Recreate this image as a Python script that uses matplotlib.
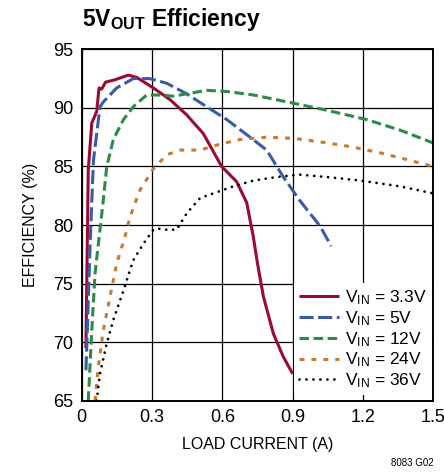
import matplotlib
matplotlib.use("Agg")
import matplotlib.pyplot as plt
from matplotlib import font_manager

# pick a narrow font if there is one
names = {f.name for f in font_manager.fontManager.ttflist}
fam = "Liberation Sans Narrow" if "Liberation Sans Narrow" in names else "Liberation Sans"
plt.rcParams["font.family"] = [fam, "DejaVu Sans"]
plt.rcParams["mathtext.default"] = "regular"

# data
i_33 = [0.018, 0.028, 0.043, 0.064, 0.074, 0.085, 0.102, 0.142, 0.199, 0.235, 0.306, 0.377,
        0.448, 0.519, 0.597, 0.661, 0.704, 0.732, 0.75, 0.775, 0.818, 0.86, 0.9]
e_33 = [69.5, 84.7, 88.7, 89.7, 91.7, 91.6, 92.2, 92.4, 92.8, 92.6, 91.7, 90.7,
        89.4, 87.8, 85.0, 83.7, 81.9, 79.0, 76.7, 73.9, 70.7, 68.75, 67.3]

i_5 = [0.018, 0.024, 0.036, 0.05, 0.078, 0.092, 0.149, 0.22, 0.29, 0.363, 0.448, 0.533,
       0.619, 0.718, 0.789, 0.86, 0.93, 1.017, 1.064]
e_5 = [67.6, 71.0, 78.4, 85.5, 90.1, 90.5, 91.7, 92.5, 92.5, 92.1, 91.2, 90.1,
       89.0, 87.5, 86.4, 84.1, 82.1, 79.9, 78.2]

i_12 = [0.028, 0.043, 0.057, 0.078, 0.092, 0.107, 0.135, 0.178, 0.22, 0.277, 0.334, 0.391,
        0.448, 0.533, 0.619, 0.733, 0.903, 1.045, 1.216, 1.358, 1.5]
e_12 = [65.0, 71.0, 75.9, 79.6, 82.1, 85.0, 87.3, 89.0, 90.1, 91.1, 91.1, 91.0,
        91.2, 91.5, 91.4, 91.1, 90.4, 89.8, 89.0, 88.1, 87.0]

i_24 = [0.057, 0.071, 0.092, 0.121, 0.149, 0.185, 0.206, 0.249, 0.306, 0.363, 0.42, 0.505,
        0.59, 0.675, 0.789, 0.903, 1.017, 1.145, 1.287, 1.5]
e_24 = [65.0, 67.9, 71.0, 73.9, 76.7, 79.0, 80.7, 83.0, 84.8, 86.0, 86.4, 86.4,
        86.9, 87.3, 87.5, 87.4, 87.1, 86.7, 86.1, 85.0]

i_36 = [0.064, 0.078, 0.107, 0.135, 0.178, 0.22, 0.263, 0.306, 0.32, 0.363, 0.405, 0.448,
        0.505, 0.576, 0.647, 0.733, 0.832, 0.93, 1.045, 1.187, 1.358, 1.5]
e_36 = [65.0, 67.3, 69.9, 71.9, 74.4, 77.0, 78.4, 79.6, 79.7, 79.6, 79.6, 81.0,
        82.3, 82.8, 83.3, 83.8, 84.1, 84.3, 84.1, 83.8, 83.3, 82.7]

labels = ["3.3V", "5V", "12V", "24V", "36V"]

fig = plt.figure(figsize=(4.44, 4.72), dpi=100)
ax = fig.add_axes([0.184, 0.151, 0.792, 0.7445])

lw = 2.2
ax.plot(i_33, e_33, color="#9a0a35", lw=lw, solid_capstyle="butt",
        label=r"V$_{IN}$ = " + labels[0])
ax.plot(i_5, e_5, color="#3a5aa8", lw=lw, dashes=(4.6, 1.5),
        label=r"V$_{IN}$ = " + labels[1])
ax.plot(i_12, e_12, color="#2e8a48", lw=lw, dashes=(3.1, 1.5),
        label=r"V$_{IN}$ = " + labels[2])
ax.plot(i_24, e_24, color="#c87a34", lw=lw, dashes=(1.6, 2.3),
        label=r"V$_{IN}$ = " + labels[3])
ax.plot(i_36, e_36, color="black", lw=2.0, dashes=(0.01, 2.5), dash_capstyle="round",
        label=r"V$_{IN}$ = " + labels[4])

ax.set_xlim(0, 1.5)
ax.set_ylim(65, 95)
ax.set_xticks([0, 0.3, 0.6, 0.9, 1.2, 1.5])
ax.set_xticklabels(["0", "0.3", "0.6", "0.9", "1.2", "1.5"])
ax.set_yticks([65, 70, 75, 80, 85, 90, 95])
ax.tick_params(length=0, labelsize=13, pad=6)
ax.grid(True, color="black", lw=0.9)
for s in ax.spines.values():
    s.set_linewidth(1.4)

ax.set_xlabel("LOAD CURRENT (A)", fontsize=11.5, labelpad=8)
ax.set_ylabel("EFFICIENCY (%)", fontsize=11.5, labelpad=11)

leg = ax.legend(loc="lower right", bbox_to_anchor=(0.995, 0.015), fontsize=12.5,
                frameon=True, fancybox=False, handlelength=2.3, handletextpad=0.3,
                labelspacing=0.12, borderpad=0.3, borderaxespad=0.0,
                edgecolor="none", framealpha=1)

fig.text(0.184, 0.958, r"5V$_{OUT}$ Efficiency", fontsize=16.5, fontweight="bold",
         ha="left", va="center")
fig.text(0.976, 0.02, "8083 G02", fontsize=7, ha="right", va="center")

fig.savefig("out.png", dpi=100)
